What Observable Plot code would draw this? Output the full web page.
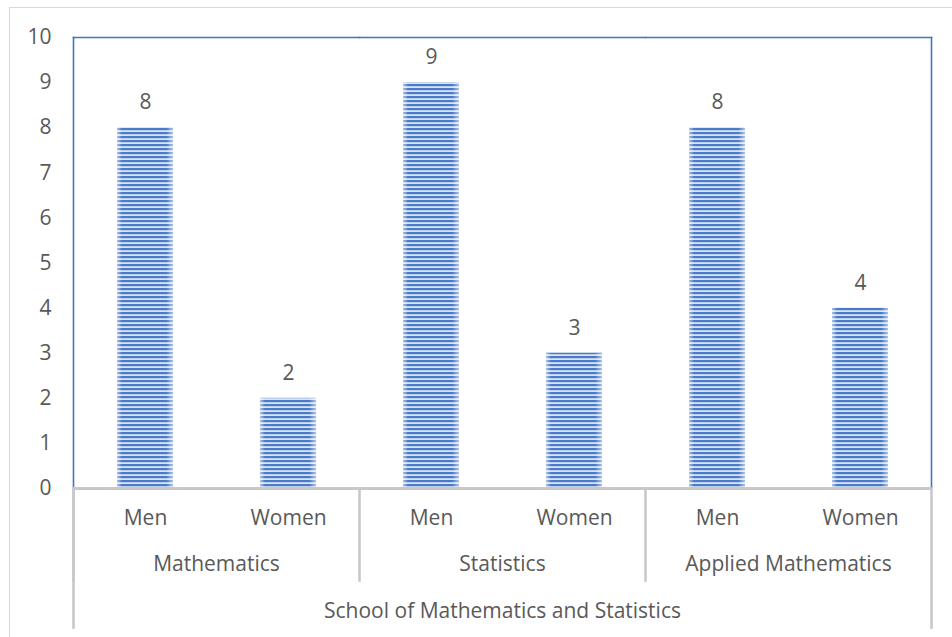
<!DOCTYPE html>
<html>
<head>
<meta charset="utf-8">
<script src="https://cdn.jsdelivr.net/npm/d3@7"></script>
<script src="https://cdn.jsdelivr.net/npm/@observablehq/plot@0.6"></script>
<style>
  body { margin: 0; background: #fff; }
  #wrap { position: relative; width: 952px; height: 637px; overflow: hidden; }
  #edge { position: absolute; left: 9px; top: 7px; right: -20px; bottom: -20px;
          border-top: 1.5px solid #d9d9d9; border-left: 1.5px solid #d9d9d9; }
  #wrap > svg { position: absolute; left: 0; top: 0; }
</style>
</head>
<body>
<div id="wrap"><div id="edge"></div></div>
<script>
// Headcount by department and gender
const schoolName = "School of Mathematics and Statistics";
const departments = ["Mathematics", "Statistics", "Applied Mathematics"];
const genders = ["Men", "Women"];
const menCounts = [8, 9, 8];
const womenCounts = [2, 3, 4];
const yTicks = [0, 1, 2, 3, 4, 5, 6, 7, 8, 9, 10];

const rows = departments.flatMap((dept, i) => [
  {dept, gender: genders[0], count: menCounts[i]},
  {dept, gender: genders[1], count: womenCounts[i]}
]);

// layout
const W = 952, H = 637;
const MT = 37, MB = 149, ML = 72, MR = 20;
const innerH = H - MT - MB;
const grey = "#c8c8c8", blue = "#4472c4", ink = "#595959";

const chart = Plot.plot({
  width: W,
  height: H,
  marginTop: MT,
  marginBottom: MB,
  marginLeft: ML,
  marginRight: MR,
  style: {fontFamily: "'Open Sans', sans-serif", fontSize: "21px", color: ink, background: "transparent", overflow: "visible"},
  fx: {domain: departments, padding: 0, axis: null},
  x: {domain: genders, paddingInner: 0.61, paddingOuter: 0.305},
  y: {domain: [0, 10]},
  marks: [
    // striped columns with a soft light edge
    Plot.barY(rows, {fx: "dept", x: "gender", y: "count", fill: "url(#stripes)"}),
    Plot.barY(rows, {fx: "dept", x: "gender", y: "count", fill: "url(#sheen)"}),

    // plot-area outline
    Plot.frame({anchor: "top", stroke: blue, strokeWidth: 1.6}),
    Plot.frame({anchor: "left", facetAnchor: "left", stroke: blue, strokeWidth: 1.6}),
    Plot.frame({anchor: "right", facetAnchor: "right", stroke: blue, strokeWidth: 1.6}),

    // multi-level category dividers
    Plot.frame({anchor: "left", stroke: grey, strokeWidth: 2.6, insetTop: innerH, insetBottom: -92}),
    Plot.frame({anchor: "left", facetAnchor: "left", stroke: grey, strokeWidth: 2.6, insetTop: innerH, insetBottom: -139}),
    Plot.frame({anchor: "right", facetAnchor: "right", stroke: grey, strokeWidth: 2.6, insetTop: innerH, insetBottom: -139}),
    Plot.ruleY([0], {stroke: grey, strokeWidth: 3}),

    // axes
    Plot.axisY({ticks: yTicks, tickSize: 0, tickPadding: 22, label: null}),
    Plot.axisX({tickSize: 0, tickPadding: 22, label: null}),

    // value labels
    Plot.text(rows, {fx: "dept", x: "gender", y: "count", text: "count", dy: -25, fill: ink}),

    // department and school labels
    Plot.text(departments, {fx: d => d, text: d => d, frameAnchor: "bottom", dy: 82, fill: ink}),
    Plot.text([schoolName], {fx: () => departments[1], text: d => d, frameAnchor: "bottom", dy: 129, fill: ink})
  ]
});

// fill definitions for the columns
const ns = "http://www.w3.org/2000/svg";
const defs = document.createElementNS(ns, "defs");
defs.innerHTML = `
  <pattern id="stripes" patternUnits="userSpaceOnUse" width="8" height="4">
    <rect width="8" height="4" fill="#dae3f3"></rect>
    <rect width="8" height="2.2" fill="#4a7bc8"></rect>
  </pattern>
  <linearGradient id="sheen" x1="0" x2="1" y1="0" y2="0">
    <stop offset="0" stop-color="#ffffff" stop-opacity="0.55"></stop>
    <stop offset="0.09" stop-color="#ffffff" stop-opacity="0"></stop>
    <stop offset="0.88" stop-color="#ffffff" stop-opacity="0"></stop>
    <stop offset="1" stop-color="#ffffff" stop-opacity="0.55"></stop>
  </linearGradient>`;
chart.insertBefore(defs, chart.firstChild);

document.getElementById("wrap").appendChild(chart);
</script>
</body>
</html>
